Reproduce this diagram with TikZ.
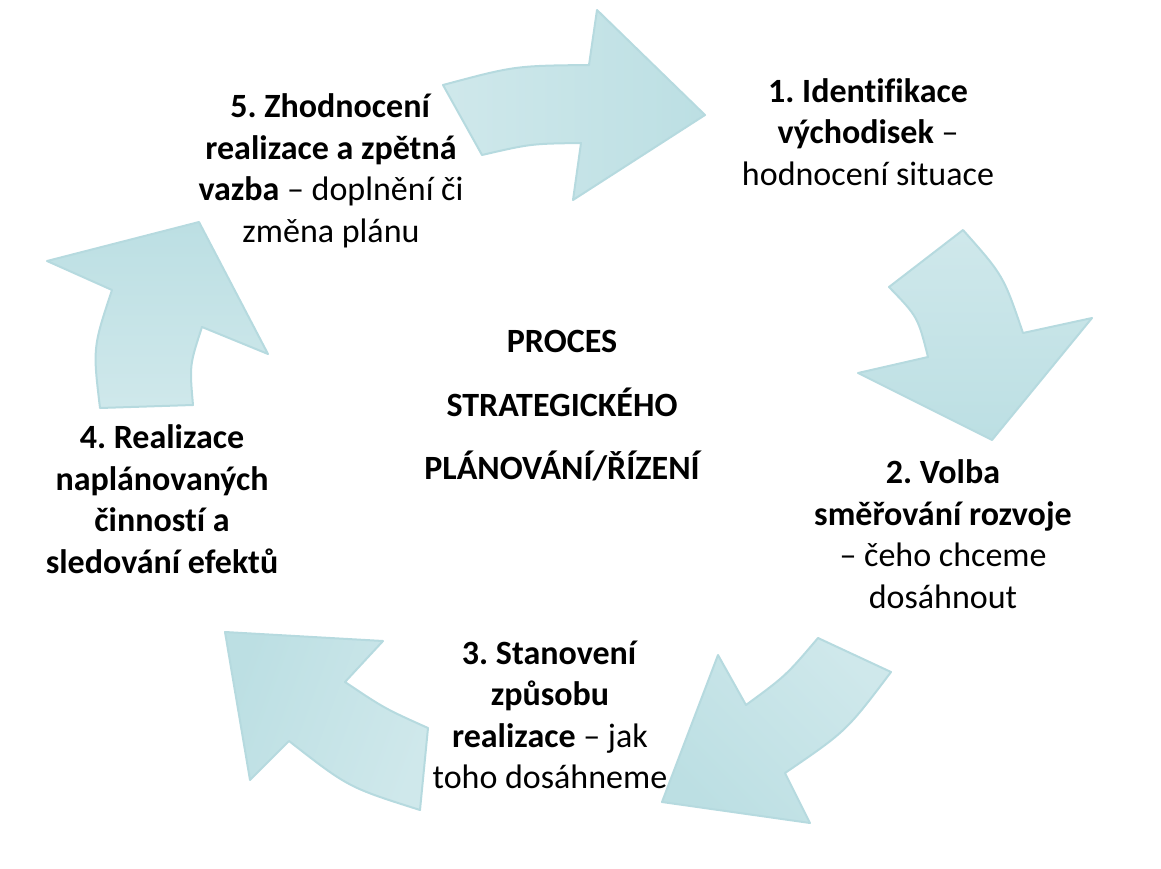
\documentclass[tikz,border=0pt]{standalone}
\usepackage{fontspec}
\setmainfont{Carlito}[Ligatures=NoCommon]
\frenchspacing
\definecolor{arrowlight}{HTML}{CFE8EB}
\definecolor{arrowdark}{HTML}{BCDFE3}
\definecolor{arrowedge}{HTML}{B6DADF}
\tikzset{
  cyclearrow/.style={draw=arrowedge, line width=2bp, line join=round, top color=arrowlight, bottom color=arrowdark},
  lbl/.style={align=center, inner sep=0pt, font=\fontsize{34bp}{41.5bp}\selectfont, text=black},
}
\begin{document}
\begin{tikzpicture}[x=1bp,y=-1bp]
\useasboundingbox (0,0) rectangle (1161,869);
% arrow 1 (top)
\path[cyclearrow, shading angle=90] (443,85) .. controls (514.7,65.8) .. (589,65) -- (597,10) -- (705,115) -- (573,200) -- (581,143) .. controls (530.9,143.7) .. (482,155) -- cycle;
% arrow 2 (right)
\path[cyclearrow, shading angle=0] (963,230) .. controls (1003.4,275.5) .. (1023,333) -- (1092,318) -- (992,440) -- (858,373) -- (928,357) .. controls (917.8,316.8) .. (889,287) -- cycle;
% arrow 3 (bottom right)
\path[cyclearrow, shading angle=-45] (891,672) .. controls (846.3,731.2) .. (785,773) -- (810,823) -- (662,802) -- (718,655) -- (746,705) .. controls (785.9,675.7) .. (818,638) -- cycle;
% arrow 4 (bottom left)
\path[cyclearrow, shading angle=-110] (420,810) .. controls (348.3,787.3) .. (289,741) -- (250,780) -- (225,632) -- (383,641) -- (345,682) .. controls (384.6,708.5) .. (428,728) -- cycle;
% arrow 5 (left)
\path[cyclearrow, shading angle=180] (100,408) .. controls (92.8,347.7) .. (112,290) -- (47,261) -- (199,222) -- (268,354) -- (202,327) .. controls (189.5,365.2) .. (193,405) -- cycle;
% labels
\node[lbl] (t1) at (868,132) {\textbf{1. Identifikace}\\\textbf{východisek} –\\hodnocení situace};
\node[lbl] (t2) at (943,534) {\textbf{2. Volba}\\\textbf{směřování rozvoje}\\– čeho chceme\\dosáhnout};
\node[lbl] (t3) at (550,715) {\textbf{3. Stanovení}\\\textbf{způsobu}\\\textbf{realizace} – jak\\toho dosáhneme};
\node[lbl] (t4) at (162,499) {\textbf{4. Realizace}\\\textbf{naplánovaných}\\\textbf{činností a}\\\textbf{sledování efektů}};
\node[lbl] (t5) at (331,171) {\textbf{5. Zhodnocení}\\\textbf{realizace a zpětná}\\\textbf{vazba} – doplnění či\\změna plánu};
\node[lbl, font={\fontsize{34bp}{63.5bp}\selectfont\bfseries}] (tc) at (562,406) {PROCES\\STRATEGICKÉHO\\PLÁNOVÁNÍ/ŘÍZENÍ};
\end{tikzpicture}
\end{document}
